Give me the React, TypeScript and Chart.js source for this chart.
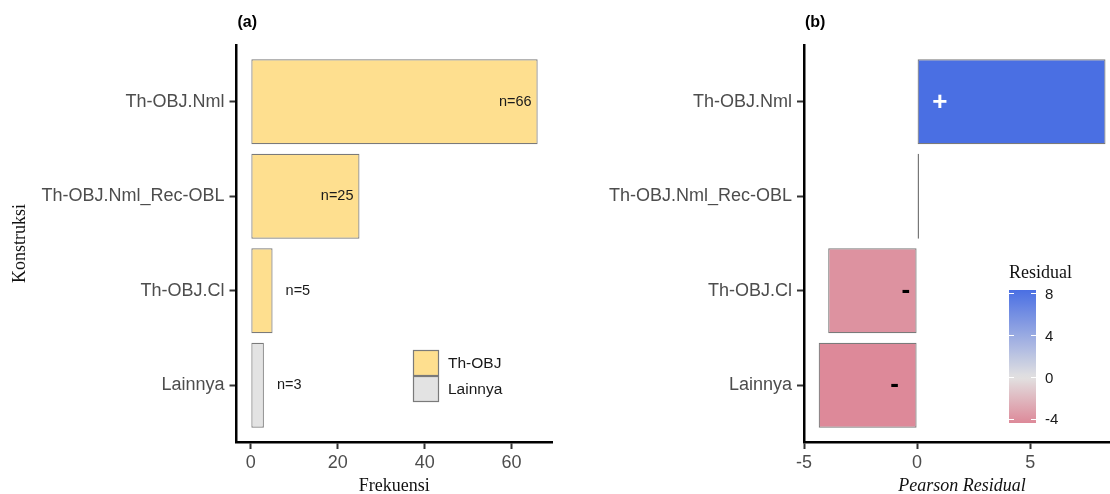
import React, { useEffect, useRef } from "react";
import { Chart, registerables } from "chart.js";

Chart.register(...registerables);

// ---------------- data ----------------
const categories = ["Th-OBJ.Nml", "Th-OBJ.Nml_Rec-OBL", "Th-OBJ.Cl", "Lainnya"];
const frequencies = [66, 25, 5, 3];
const groups = ["Th-OBJ", "Th-OBJ", "Th-OBJ", "Lainnya"];
const legendGroups = ["Th-OBJ", "Lainnya"];
const residuals = [8.33, 0.08, -3.93, -4.35];
const residualSigns = ["+", "", "-", "-"];
const signLabelAt = [1.0, 0, -0.5, -1.0];
const freqTicks = [0, 20, 40, 60];
const residualTicks = [-5, 0, 5];
const colorbarTicks = [8, 4, 0, -4];

// ---------------- styles ----------------
const SANS = '"Liberation Sans", Arial, sans-serif';
const SERIF = '"Liberation Serif", "Times New Roman", serif';
const groupColors: Record<string, string> = { "Th-OBJ": "#FEDF8F", Lainnya: "#E3E3E3" };
const residualLow = "#D83958";
const residualMid = "#E2E1E1";
const residualHigh = "#4A6FE3";
const barBorder = "#7a7a7a";
const thinBarColor = "#5a5a5a";
const tickGray = "#4d4d4d";

function hexToRgb(h: string) {
  const n = parseInt(h.slice(1), 16);
  return [(n >> 16) & 255, (n >> 8) & 255, n & 255];
}
function mix(a: string, b: string, t: number) {
  const A = hexToRgb(a), B = hexToRgb(b);
  const c = A.map((v, i) => Math.round(v + (B[i] - v) * t));
  return `rgb(${c[0]},${c[1]},${c[2]})`;
}
const maxAbsResidual = Math.max(...residuals.map((v) => Math.abs(v)));
function residualColor(v: number) {
  const t = Math.min(1, Math.abs(v) / maxAbsResidual);
  return v >= 0 ? mix(residualMid, residualHigh, t) : mix(residualMid, residualLow, t);
}

const indexData = (vals: number[]) => vals.map((v, i) => ({ x: v, y: i + 1 }));

function yScale(width: number) {
  return {
    type: "linear" as const,
    reverse: true,
    offset: false,
    min: 0.4,
    max: categories.length + 0.6,
    afterFit: (s: any) => { s.width = width; },
    afterBuildTicks: (s: any) => { s.ticks = categories.map((_, i) => ({ value: i + 1 })); },
    ticks: {
      callback: (v: any) => categories[Number(v) - 1] ?? "",
      font: { family: SANS, size: 18 },
      color: tickGray,
      padding: 5,
      autoSkip: false,
    },
    grid: { display: true, offset: false, drawOnChartArea: false, drawTicks: true, tickLength: 7, tickWidth: 2, tickColor: "#333" },
    border: { display: true, color: "#000", width: 2.5 },
  };
}

function xScale(min: number, max: number, ticks: number[]) {
  return {
    type: "linear" as const,
    min,
    max,
    afterFit: (s: any) => { s.height = 52; },
    afterBuildTicks: (s: any) => { s.ticks = ticks.map((v) => ({ value: v })); },
    ticks: { font: { family: SANS, size: 18 }, color: tickGray, padding: 3 },
    grid: { display: true, drawOnChartArea: false, drawTicks: true, tickLength: 7, tickWidth: 2, tickColor: "#333" },
    border: { display: true, color: "#000", width: 2.5 },
  };
}

const panelAPlugin = {
  id: "panelA",
  afterDraw(chart: any) {
    const ctx: CanvasRenderingContext2D = chart.ctx;
    const ca = chart.chartArea;
    const x = chart.scales.x, y = chart.scales.y;
    ctx.save();
    ctx.fillStyle = "#000";
    ctx.font = `bold 16px ${SANS}`;
    ctx.textAlign = "left";
    ctx.textBaseline = "middle";
    ctx.fillText("(a)", ca.left + 1, 23);

    ctx.font = `18px ${SERIF}`;
    ctx.textAlign = "center";
    ctx.fillStyle = "#111";
    ctx.fillText("Frekuensi", (ca.left + ca.right) / 2, 486);
    ctx.save();
    ctx.translate(20, (ca.top + ca.bottom) / 2);
    ctx.rotate(-Math.PI / 2);
    ctx.fillText("Konstruksi", 0, 0);
    ctx.restore();

    // bar labels
    ctx.font = `14.5px ${SANS}`;
    ctx.fillStyle = "#1a1a1a";
    frequencies.forEach((f, i) => {
      const px = x.getPixelForValue(f);
      const py = y.getPixelForValue(i + 1);
      if (f > 10) {
        ctx.textAlign = "right";
        ctx.fillText(`n=${f}`, px - 6, py);
      } else {
        ctx.textAlign = "left";
        ctx.fillText(`n=${f}`, px + 13, py);
      }
    });

    // legend
    const lx = 413, ly = 350, kw = 26, kh = 26;
    legendGroups.forEach((g, i) => {
      const top = ly + i * kh;
      ctx.fillStyle = groupColors[g];
      ctx.fillRect(lx, top, kw, kh);
      ctx.strokeStyle = barBorder;
      ctx.lineWidth = 1.2;
      ctx.strokeRect(lx + 0.5, top + 0.5, kw - 1, kh - 1);
      ctx.fillStyle = "#1a1a1a";
      ctx.font = `15.5px ${SANS}`;
      ctx.textAlign = "left";
      ctx.fillText(g, lx + 35, top + kh / 2 + 0.5);
    });
    ctx.restore();
  },
};

const panelBPlugin = {
  id: "panelB",
  afterDraw(chart: any) {
    const ctx: CanvasRenderingContext2D = chart.ctx;
    const ca = chart.chartArea;
    const x = chart.scales.x, y = chart.scales.y;
    ctx.save();
    ctx.fillStyle = "#000";
    ctx.font = `bold 16px ${SANS}`;
    ctx.textAlign = "left";
    ctx.textBaseline = "middle";
    ctx.fillText("(b)", ca.left + 1, 23);

    ctx.font = `italic 18px ${SERIF}`;
    ctx.textAlign = "center";
    ctx.fillStyle = "#111";
    ctx.fillText("Pearson Residual", (ca.left + ca.right) / 2, 486);

    // sign labels
    residualSigns.forEach((s, i) => {
      if (!s) return;
      const px = x.getPixelForValue(signLabelAt[i]);
      const py = y.getPixelForValue(i + 1);
      ctx.textAlign = "center";
      if (s === "+") {
        ctx.fillStyle = "#ffffff";
        ctx.font = `bold 26px ${SANS}`;
        ctx.fillText(s, px, py + 1);
      } else {
        ctx.fillStyle = "#000000";
        ctx.font = `bold 26px ${SANS}`;
        ctx.fillText(s, px, py);
      }
    });

    // colorbar
    const cbLeft = 1009 - 560, cbW = 27, cbTop = 290, cbBottom = 423;
    const vMax = Math.max(...residuals), vMin = Math.min(...residuals);
    const vy = (v: number) => cbTop + ((vMax - v) / (vMax - vMin)) * (cbBottom - cbTop);
    const grad = ctx.createLinearGradient(0, cbTop, 0, cbBottom);
    const steps = 30;
    for (let k = 0; k <= steps; k++) {
      const v = vMax - ((vMax - vMin) * k) / steps;
      grad.addColorStop(k / steps, residualColor(v));
    }
    ctx.fillStyle = grad;
    ctx.fillRect(cbLeft, cbTop, cbW, cbBottom - cbTop);
    ctx.strokeStyle = "#ffffff";
    ctx.lineWidth = 1;
    colorbarTicks.forEach((t) => {
      const ty = Math.round(vy(t)) + 0.5;
      ctx.beginPath();
      ctx.moveTo(cbLeft, ty); ctx.lineTo(cbLeft + 5, ty);
      ctx.moveTo(cbLeft + cbW - 5, ty); ctx.lineTo(cbLeft + cbW, ty);
      ctx.stroke();
      ctx.fillStyle = "#1a1a1a";
      ctx.font = `15px ${SANS}`;
      ctx.textAlign = "left";
      ctx.fillText(String(t), cbLeft + cbW + 9, vy(t) + 1);
    });
    ctx.fillStyle = "#111";
    ctx.font = `18px ${SERIF}`;
    ctx.textAlign = "left";
    ctx.fillText("Residual", cbLeft, 273);
    ctx.restore();
  },
};

function ChartCanvas({ config, width, height }: { config: () => any; width: number; height: number }) {
  const ref = useRef<HTMLCanvasElement | null>(null);
  useEffect(() => {
    if (!ref.current) return;
    const chart = new Chart(ref.current, config());
    return () => chart.destroy();
  }, []);
  return <canvas ref={ref} width={width} height={height} style={{ width, height, display: "block" }} />;
}

const configA = () => ({
  type: "bar",
  data: {
    datasets: [
      {
        data: indexData(frequencies),
        backgroundColor: groups.map((g) => groupColors[g]),
        borderColor: barBorder,
        borderWidth: 1.2,
        borderSkipped: false,
        categoryPercentage: 1,
        barPercentage: 0.9,
      },
    ],
  },
  options: {
    indexAxis: "y",
    responsive: false,
    animation: false,
    devicePixelRatio: 1,
    layout: { padding: { left: 0, right: 18, top: 45, bottom: 0 } },
    plugins: { legend: { display: false }, tooltip: { enabled: false }, title: { display: false } },
    scales: { x: xScale(-3.3, 69.3, freqTicks), y: yScale(236.5) },
  },
  plugins: [panelAPlugin],
});

const configB = () => ({
  type: "bar",
  data: {
    datasets: [
      {
        data: indexData(residuals),
        backgroundColor: residuals.map((v) => (Math.abs(v) < 0.5 ? thinBarColor : residualColor(v))),
        borderColor: residuals.map((v) => (Math.abs(v) < 0.5 ? thinBarColor : barBorder)),
        borderWidth: 1.2,
        borderSkipped: false,
        categoryPercentage: 1,
        barPercentage: 0.9,
      },
    ],
  },
  options: {
    indexAxis: "y",
    responsive: false,
    animation: false,
    devicePixelRatio: 1,
    layout: { padding: { left: 0, right: 10, top: 45, bottom: 0 } },
    plugins: { legend: { display: false }, tooltip: { enabled: false }, title: { display: false } },
    scales: { x: xScale(-5, 8.97, residualTicks), y: yScale(244) },
  },
  plugins: [panelBPlugin],
});

export default function App() {
  return (
    <div style={{ position: "fixed", left: 0, top: 0, width: 1110, height: 494, overflow: "hidden", background: "#fff" }}>
      <div style={{ position: "absolute", left: 0, top: 0 }}>
        <ChartCanvas config={configA} width={570} height={494} />
      </div>
      <div style={{ position: "absolute", left: 560, top: 0 }}>
        <ChartCanvas config={configB} width={570} height={494} />
      </div>
    </div>
  );
}
